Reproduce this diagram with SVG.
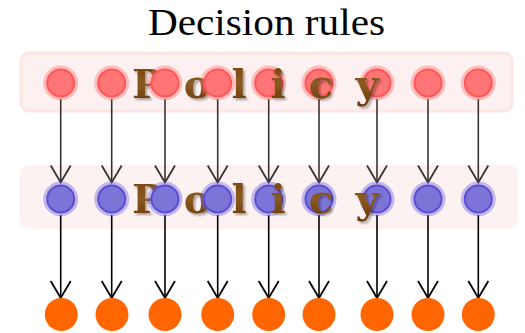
<svg xmlns="http://www.w3.org/2000/svg" width="525" height="333" viewBox="0 0 525 333">
<defs>
<marker id="arrG" markerUnits="userSpaceOnUse" markerWidth="20" markerHeight="24" refX="0" refY="0" orient="auto" overflow="visible">
<path d="M-17,-10 L0,0 L-17,10" fill="none" stroke="#3a3232" stroke-width="1.8"/>
</marker>
<marker id="arrK" markerUnits="userSpaceOnUse" markerWidth="20" markerHeight="24" refX="0" refY="0" orient="auto" overflow="visible">
<path d="M-17,-10 L0,0 L-17,10" fill="none" stroke="#000" stroke-width="1.8"/>
</marker>
<filter id="sh" x="-30%" y="-30%" width="170%" height="170%">
<feDropShadow dx="2" dy="2" stdDeviation="1" flood-color="#000" flood-opacity="0.35"/>
</filter>
<linearGradient id="brown" x1="0" y1="0" x2="0" y2="1">
<stop offset="0" stop-color="#74400c"/>
<stop offset="0.5" stop-color="#8a5a22"/>
<stop offset="1" stop-color="#663404"/>
</linearGradient>
</defs>
<style>
.title{font-family:"Liberation Serif",serif;font-size:38px;fill:#000}
.pol{font-family:"DejaVu Serif",serif;font-weight:bold;font-size:40px;fill:url(#brown);filter:url(#sh);text-anchor:middle}
.red .halo{fill:none;stroke:#ff6b6b;stroke-opacity:0.4;stroke-width:4}
.red .core{fill:#ff7575;stroke:#ff5757;stroke-width:2}
.blue .halo{fill:none;stroke:#6a5fd8;stroke-opacity:0.4;stroke-width:4}
.blue .core{fill:#7d74d8;stroke:#5a4fd4;stroke-width:2}
.org circle{fill:#ff6600}
.e1{stroke:#3a3232;stroke-width:1.6;marker-end:url(#arrG)}
.e2{stroke:#000;stroke-width:1.6;marker-end:url(#arrK)}
</style>
<text class="title" x="148" y="35" textLength="237" lengthAdjust="spacingAndGlyphs">Decision rules</text>
<rect x="21" y="53" width="491" height="58" rx="8" fill="#fdf0f0" stroke="#fde6e6" stroke-width="3"/>
<rect x="19.5" y="165" width="498.5" height="64" rx="9" fill="#fdf2f2"/>
<g id="connectors">
<line class="e1" x1="60.7" y1="99" x2="60.7" y2="182.5"/>
<line class="e1" x1="111.7" y1="99" x2="111.7" y2="182.5"/>
<line class="e1" x1="165" y1="99" x2="165" y2="182.5"/>
<line class="e1" x1="217.7" y1="99" x2="217.7" y2="182.5"/>
<line class="e1" x1="268.7" y1="99" x2="268.7" y2="182.5"/>
<line class="e1" x1="319" y1="99" x2="319" y2="182.5"/>
<line class="e1" x1="377" y1="99" x2="377" y2="182.5"/>
<line class="e1" x1="428" y1="99" x2="428" y2="182.5"/>
<line class="e1" x1="478.3" y1="99" x2="478.3" y2="182.5"/>
<line class="e2" x1="60.7" y1="215" x2="60.7" y2="298"/>
<line class="e2" x1="111.7" y1="215" x2="111.7" y2="298"/>
<line class="e2" x1="165" y1="215" x2="165" y2="298"/>
<line class="e2" x1="217.7" y1="215" x2="217.7" y2="298"/>
<line class="e2" x1="268.7" y1="215" x2="268.7" y2="298"/>
<line class="e2" x1="319" y1="215" x2="319" y2="298"/>
<line class="e2" x1="377" y1="215" x2="377" y2="298"/>
<line class="e2" x1="428" y1="215" x2="428" y2="298"/>
<line class="e2" x1="478.3" y1="215" x2="478.3" y2="298"/>
</g>
<text class="pol" x="147" y="98">P</text>
<text class="pol" x="197" y="98">o</text>
<text class="pol" x="147" y="213">P</text>
<text class="pol" x="197" y="213">o</text>
<g id="r1" class="red"><circle class="halo" cx="60.7" cy="83" r="15.5"/><circle class="core" cx="60.7" cy="83" r="13.5"/></g>
<g id="r2" class="red"><circle class="halo" cx="111.7" cy="83" r="15.5"/><circle class="core" cx="111.7" cy="83" r="13.5"/></g>
<g id="r3" class="red"><circle class="halo" cx="165" cy="83" r="15.5"/><circle class="core" cx="165" cy="83" r="13.5"/></g>
<g id="r4" class="red"><circle class="halo" cx="217.7" cy="83" r="15.5"/><circle class="core" cx="217.7" cy="83" r="13.5"/></g>
<g id="r5" class="red"><circle class="halo" cx="268.7" cy="83" r="15.5"/><circle class="core" cx="268.7" cy="83" r="13.5"/></g>
<g id="r6" class="red"><circle class="halo" cx="319" cy="83" r="15.5"/><circle class="core" cx="319" cy="83" r="13.5"/></g>
<g id="r7" class="red"><circle class="halo" cx="377" cy="83" r="15.5"/><circle class="core" cx="377" cy="83" r="13.5"/></g>
<g id="r8" class="red"><circle class="halo" cx="428" cy="83" r="15.5"/><circle class="core" cx="428" cy="83" r="13.5"/></g>
<g id="r9" class="red"><circle class="halo" cx="478.3" cy="83" r="15.5"/><circle class="core" cx="478.3" cy="83" r="13.5"/></g>
<g id="b1" class="blue"><circle class="halo" cx="60.7" cy="199" r="15.5"/><circle class="core" cx="60.7" cy="199" r="13.5"/></g>
<g id="b2" class="blue"><circle class="halo" cx="111.7" cy="199" r="15.5"/><circle class="core" cx="111.7" cy="199" r="13.5"/></g>
<g id="b3" class="blue"><circle class="halo" cx="165" cy="199" r="15.5"/><circle class="core" cx="165" cy="199" r="13.5"/></g>
<g id="b4" class="blue"><circle class="halo" cx="217.7" cy="199" r="15.5"/><circle class="core" cx="217.7" cy="199" r="13.5"/></g>
<g id="b5" class="blue"><circle class="halo" cx="268.7" cy="199" r="15.5"/><circle class="core" cx="268.7" cy="199" r="13.5"/></g>
<g id="b6" class="blue"><circle class="halo" cx="319" cy="199" r="15.5"/><circle class="core" cx="319" cy="199" r="13.5"/></g>
<g id="b7" class="blue"><circle class="halo" cx="377" cy="199" r="15.5"/><circle class="core" cx="377" cy="199" r="13.5"/></g>
<g id="b8" class="blue"><circle class="halo" cx="428" cy="199" r="15.5"/><circle class="core" cx="428" cy="199" r="13.5"/></g>
<g id="b9" class="blue"><circle class="halo" cx="478.3" cy="199" r="15.5"/><circle class="core" cx="478.3" cy="199" r="13.5"/></g>
<g id="o1" class="org"><circle cx="61.3" cy="314.5" r="16.5"/></g>
<g id="o2" class="org"><circle cx="112" cy="314.5" r="16.5"/></g>
<g id="o3" class="org"><circle cx="165" cy="314.5" r="16.5"/></g>
<g id="o4" class="org"><circle cx="217.7" cy="314.5" r="16.5"/></g>
<g id="o5" class="org"><circle cx="268.7" cy="314.5" r="16.5"/></g>
<g id="o6" class="org"><circle cx="319" cy="314.5" r="16.5"/></g>
<g id="o7" class="org"><circle cx="377" cy="314.5" r="16.5"/></g>
<g id="o8" class="org"><circle cx="428" cy="314.5" r="16.5"/></g>
<g id="o9" class="org"><circle cx="478.3" cy="314.5" r="16.5"/></g>
<text class="pol" x="239" y="98">l</text>
<text class="pol" x="278" y="98">i</text>
<text class="pol" x="321" y="98">c</text>
<text class="pol" x="367" y="98">y</text>
<text class="pol" x="239" y="213">l</text>
<text class="pol" x="278" y="213">i</text>
<text class="pol" x="321" y="213">c</text>
<text class="pol" x="367" y="213">y</text>
</svg>
